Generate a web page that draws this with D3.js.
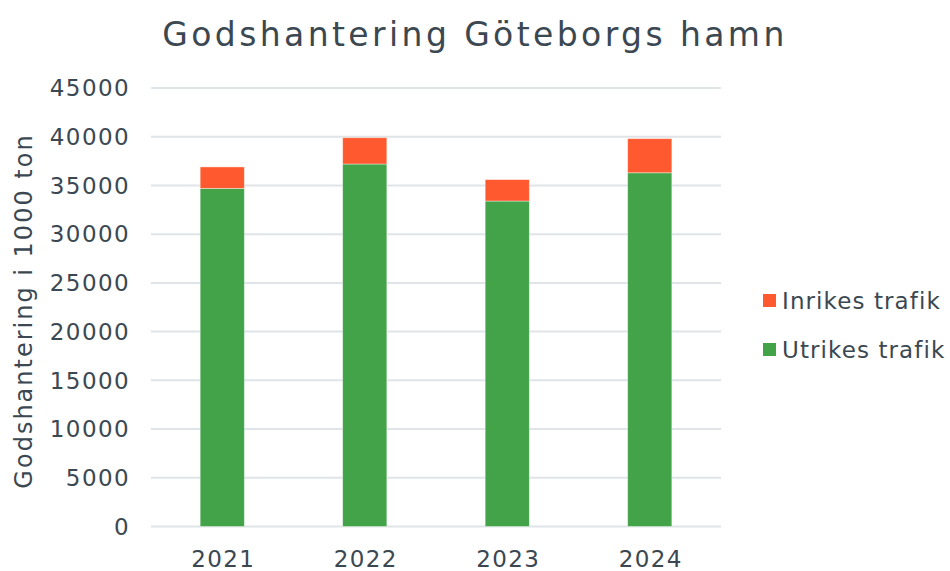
<!DOCTYPE html>
<meta charset="utf-8">
<style>
  body { margin: 0; background: #fff; }
  text { font-family: "DejaVu Sans", Verdana, sans-serif; fill: #3b4852; }
</style>
<svg width="950" height="571"></svg>
<script src="https://d3js.org/d3.v7.min.js"></script>
<script>

var years = ['2021', '2022', '2023', '2024'];
var utrikes = [34700, 37200, 33400, 36300];
var inrikes = [2200, 2700, 2200, 3500];
var yTicks = [0, 5000, 10000, 15000, 20000, 25000, 30000, 35000, 40000, 45000];
var seriesNames = ['Utrikes trafik', 'Inrikes trafik'];

var col_utr = '#43a348';
var col_inr = '#ff5a2f';

var svg = d3.select("svg"),
    margin = {left: 151, right: 230, top: 88, bottom: 45},
    width = +svg.attr("width"),
    height = +svg.attr("height");

var x = d3.scaleBand()
    .domain(years)
    .range([margin.left, width - margin.right + 1])
    .paddingInner(0.69)
    .paddingOuter(0.345);

var y = d3.scaleLinear()
    .domain([0, 45000])
    .range([526.5, 88]);

// grid
svg.append("g")
  .selectAll("line")
  .data(yTicks)
  .enter().append("line")
  .attr("x1", margin.left)
  .attr("x2", width - margin.right + 1)
  .attr("y1", d => y(d))
  .attr("y2", d => y(d))
  .attr("stroke", "#dfe4e8")
  .attr("stroke-width", 2);

// y labels
svg.append("g")
  .selectAll("text")
  .data(yTicks)
  .enter().append("text")
  .attr("x", 130)
  .attr("y", d => y(d))
  .attr("dy", "0.36em")
  .attr("text-anchor", "end")
  .style("font-size", "23px")
  .style("letter-spacing", "1.4px")
  .text(d => d);

// stacked bars
var rows = years.map((yr, i) => ({year: yr, utr: utrikes[i], inr: inrikes[i]}));
var stack = d3.stack().keys(['utr', 'inr'])(rows);
var cols = [col_utr, col_inr];

svg.append("g")
  .selectAll("g")
  .data(stack)
  .enter().append("g")
  .attr("fill", (d, i) => cols[i])
  .selectAll("rect")
  .data(d => d)
  .enter().append("rect")
  .attr("x", d => x(d.data.year))
  .attr("width", x.bandwidth())
  .attr("y", d => y(d[1]))
  .attr("height", d => y(d[0]) - y(d[1]))
  .attr("stroke", "#fff")
  .attr("stroke-opacity", 0.5)
  .attr("stroke-width", 0.8);

// x labels
svg.append("g")
  .selectAll("text")
  .data(years)
  .enter().append("text")
  .attr("x", d => x(d) + x.bandwidth() / 2 + 1)
  .attr("y", 567)
  .attr("text-anchor", "middle")
  .style("font-size", "23px")
  .style("letter-spacing", "1.4px")
  .text(d => d);

// title
svg.append("text")
  .attr("x", 475)
  .attr("y", 46)
  .attr("text-anchor", "middle")
  .style("font-size", "33px")
  .style("letter-spacing", "3.4px")
  .text("Godshantering Göteborgs hamn");

// y axis title
svg.append("text")
  .attr("transform", "translate(32,311) rotate(-90)")
  .attr("text-anchor", "middle")
  .style("font-size", "24px")
  .style("letter-spacing", "2px")
  .text("Godshantering i 1000 ton");

// legend
var legend = svg.append("g")
  .selectAll("g")
  .data([{name: seriesNames[1], c: col_inr}, {name: seriesNames[0], c: col_utr}])
  .enter().append("g")
  .attr("transform", (d, i) => "translate(763," + (301 + i * 49) + ")");

legend.append("rect")
  .attr("x", 0)
  .attr("y", -7)
  .attr("width", 13)
  .attr("height", 13)
  .attr("fill", d => d.c);

legend.append("text")
  .attr("x", 19)
  .attr("dy", "0.36em")
  .style("font-size", "23px")
  .style("letter-spacing", "1.1px")
  .text(d => d.name);

</script>
